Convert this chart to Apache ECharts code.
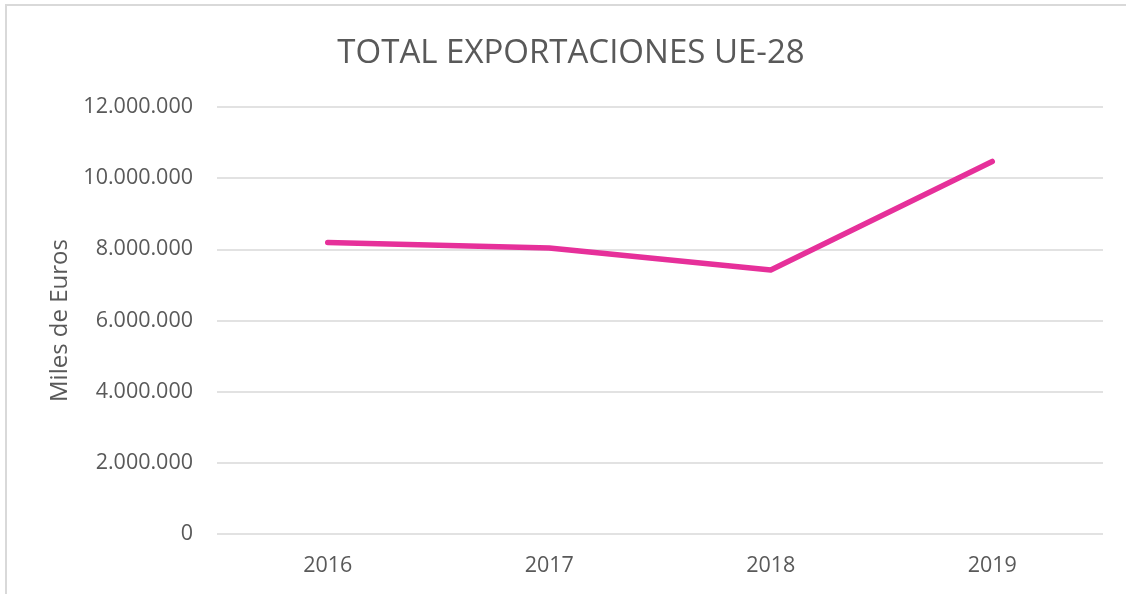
<!DOCTYPE html>
<html>
<head>
<meta charset="utf-8">
<script src="https://cdn.jsdelivr.net/npm/echarts@6/dist/echarts.min.js"></script>
<style>
  html, body { margin: 0; padding: 0; background: #fff; overflow: hidden; }
  #frame { position: absolute; left: 5px; top: 4px; width: 1200px; height: 700px;
           border-left: 2px solid #d9d9d9; border-top: 2px solid #d9d9d9; }
  #chart { position: absolute; left: 0; top: 0; width: 1126px; height: 594px; }
</style>
</head>
<body>
<div id="frame"></div>
<div id="chart"></div>
<script>
// Exportaciones totales UE-28 (miles de euros)
const years = ['2016', '2017', '2018', '2019'];
const exportaciones = [8190000, 8040000, 7420000, 10470000];

const font = '"Open Sans", sans-serif';
const grey = '#595959';

// 12.000.000 -> separador de miles con punto
function fmt(v) {
  return String(v).replace(/\B(?=(\d{3})+(?!\d))/g, '.');
}

const chart = echarts.init(document.getElementById('chart'));
chart.setOption({
  animation: false,
  title: {
    text: 'TOTAL EXPORTACIONES UE-28',
    left: 566, top: 32, textAlign: 'center',
    textStyle: { fontFamily: font, fontSize: 33, fontWeight: 'normal', color: grey }
  },
  grid: { left: 217, right: 23, top: 107, bottom: 60 },
  xAxis: {
    type: 'category',
    data: years,
    axisLine: { show: false },
    axisTick: { show: false },
    axisLabel: { fontFamily: font, fontSize: 21.5, color: grey, margin: 21 }
  },
  yAxis: {
    type: 'value',
    min: 0, max: 12000000, interval: 2000000,
    name: 'Miles de Euros',
    nameLocation: 'middle',
    nameGap: 143,
    nameTextStyle: { fontFamily: font, fontSize: 24, color: grey },
    axisLabel: { fontFamily: font, fontSize: 21.5, color: grey, margin: 24, formatter: fmt },
    splitLine: { lineStyle: { color: '#d9d9d9', width: 1.5 } }
  },
  series: [{
    type: 'line',
    data: exportaciones,
    symbol: 'none',
    lineStyle: { color: '#e6309a', width: 5.5, cap: 'round', join: 'round' }
  }]
});
</script>
</body>
</html>
